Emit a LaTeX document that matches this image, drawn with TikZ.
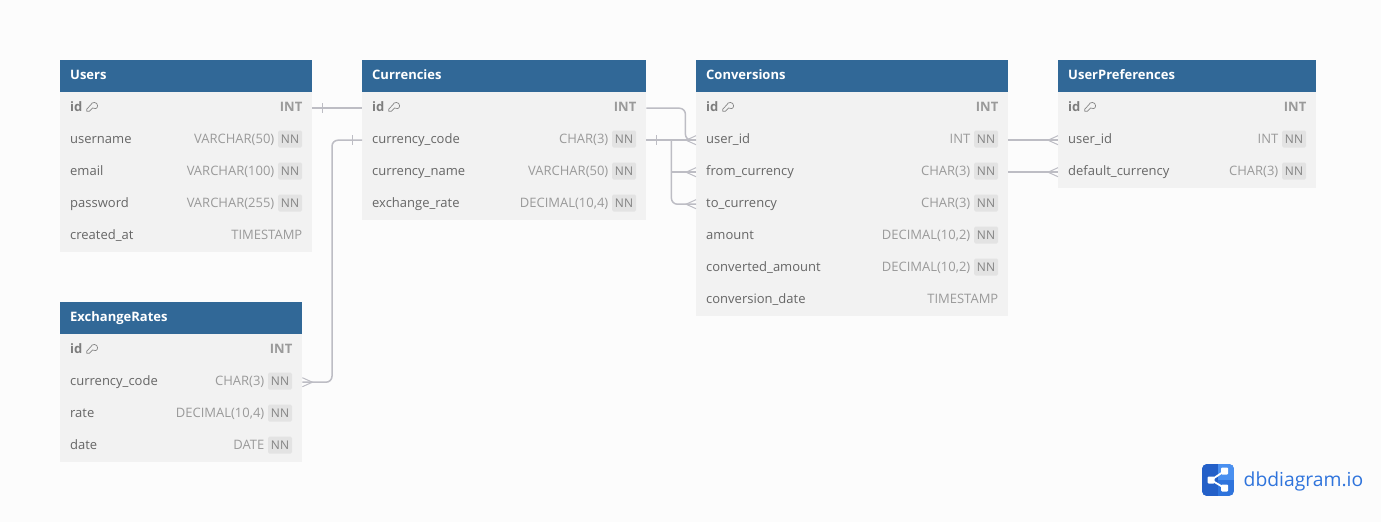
\documentclass[tikz,border=0pt]{standalone}
\usepackage{fontspec}
\setmainfont{Open Sans}
\usetikzlibrary{calc}
\definecolor{bgc}{HTML}{FCFCFC}
\definecolor{hdrc}{HTML}{316897}
\definecolor{rowc}{HTML}{F2F2F2}
\definecolor{nnc}{HTML}{E3E3E3}
\definecolor{labc}{HTML}{666666}
\definecolor{typc}{HTML}{9A9A9A}
\definecolor{linec}{HTML}{BDBDC4}
\definecolor{logoc}{HTML}{2F74DC}
\definecolor{logod}{HTML}{2460C8}
\definecolor{logol}{HTML}{4A90F0}
\tikzset{
  x=1pt,y=-1pt,
  hdrbox/.style={anchor=north west,fill=hdrc,inner sep=0pt,minimum height=32pt},
  rowbox/.style={anchor=north west,fill=rowc,inner sep=0pt,minimum height=32pt},
  hdrtxt/.style={anchor=base west,inner sep=0pt,text=white,font=\fontsize{13}{15}\selectfont\bfseries},
  labtxt/.style={anchor=base west,inner sep=0pt,text=labc,font=\fontsize{13}{15}\selectfont},
  pktxt/.style={anchor=base west,inner sep=0pt,text=labc!85!white,font=\fontsize{13}{15}\selectfont\bfseries},
  typtxt/.style={anchor=base east,inner sep=0pt,text=typc,font=\fontsize{13}{15}\selectfont},
  pktyp/.style={anchor=base east,inner sep=0pt,text=typc,font=\fontsize{13}{15}\selectfont\bfseries},
  nnbox/.style={anchor=center,fill=nnc,rounded corners=1.5pt,inner sep=0pt,minimum width=24pt,minimum height=17pt,text=typc!85!black,font=\fontsize{12}{14}\selectfont},
  conn/.style={draw=linec,line width=1.5pt,rounded corners=6pt},
  endmark/.style={draw=linec,line width=1pt},
}
% header: name x y width text
\newcommand{\hdrrow}[5]{%
  \node[hdrbox,minimum width=#4pt] (#1) at (#2,#3) {};
  \node[hdrtxt] (#1-t) at (#2+10,#3+19) {#5};}
% primary key row: name x y width type
\newcommand{\pkrow}[5]{%
  \node[rowbox,minimum width=#4pt] (#1) at (#2,#3) {};
  \node[pktxt] (#1-l) at (#2+10,#3+19) {id};
  \draw[labc!80!white,line width=.7pt,line join=round]
     (#2+26.8,#3+19.3) -- (#2+26.8,#3+17) -- (#2+30.8,#3+12.9)
     .. controls (#2+31.3,#3+9.5) and (#2+37.8,#3+9.6) .. (#2+37.6,#3+13.8)
     .. controls (#2+37.5,#3+16.8) and (#2+34.3,#3+17.6) .. (#2+32.6,#3+16)
     -- (#2+29.4,#3+19.3) -- cycle;
  \node[pktyp] (#1-y) at (#2+#4-9.5,#3+19) {#5};}
% plain row: name x y width label type
\newcommand{\plainrow}[6]{%
  \node[rowbox,minimum width=#4pt] (#1) at (#2,#3) {};
  \node[labtxt] (#1-l) at (#2+10,#3+19) {#5};
  \node[typtxt] (#1-y) at (#2+#4-9.5,#3+19) {#6};}
% not null row: name x y width label type
\newcommand{\nnrow}[6]{%
  \node[rowbox,minimum width=#4pt] (#1) at (#2,#3) {};
  \node[labtxt] (#1-l) at (#2+10,#3+19) {#5};
  \node[typtxt] (#1-y) at (#2+#4-37.5,#3+19) {#6};
  \node[nnbox] (#1-n) at (#2+#4-22,#3+15) {NN};}
\begin{document}
\begin{tikzpicture}
\fill[bgc] (0,0) rectangle (1381,522);
\useasboundingbox (0,0) rectangle (1381,522);

% Users
\hdrrow{uh}{60}{60}{252}{Users}
\pkrow{uid}{60}{92}{252}{INT}
\nnrow{uname}{60}{124}{252}{username}{VARCHAR(50)}
\nnrow{uemail}{60}{156}{252}{email}{VARCHAR(100)}
\nnrow{upass}{60}{188}{252}{password}{VARCHAR(255)}
\plainrow{ucre}{60}{220}{252}{created\_at}{TIMESTAMP}

% ExchangeRates
\hdrrow{eh}{60}{302}{242}{ExchangeRates}
\pkrow{eid}{60}{334}{242}{INT}
\nnrow{ecode}{60}{366}{242}{currency\_code}{CHAR(3)}
\nnrow{erate}{60}{398}{242}{rate}{DECIMAL(10,4)}
\nnrow{edate}{60}{430}{242}{date}{DATE}

% Currencies
\hdrrow{ch}{362}{60}{284}{Currencies}
\pkrow{cid}{362}{92}{284}{INT}
\nnrow{ccode}{362}{124}{284}{currency\_code}{CHAR(3)}
\nnrow{cname}{362}{156}{284}{currency\_name}{VARCHAR(50)}
\nnrow{crate}{362}{188}{284}{exchange\_rate}{DECIMAL(10,4)}

% Conversions
\hdrrow{vh}{696}{60}{312}{Conversions}
\pkrow{vid}{696}{92}{312}{INT}
\nnrow{vuser}{696}{124}{312}{user\_id}{INT}
\nnrow{vfrom}{696}{156}{312}{from\_currency}{CHAR(3)}
\nnrow{vto}{696}{188}{312}{to\_currency}{CHAR(3)}
\nnrow{vamt}{696}{220}{312}{amount}{DECIMAL(10,2)}
\nnrow{vconv}{696}{252}{312}{converted\_amount}{DECIMAL(10,2)}
\plainrow{vdate}{696}{284}{312}{conversion\_date}{TIMESTAMP}

% UserPreferences
\hdrrow{ph}{1058}{60}{258}{UserPreferences}
\pkrow{pid}{1058}{92}{258}{INT}
\nnrow{puser}{1058}{124}{258}{user\_id}{INT}
\nnrow{pdef}{1058}{156}{258}{default\_currency}{CHAR(3)}

% Connectors
\draw[conn] (uid.east) -- (cid.west);
\draw[endmark] ($(uid.east)+(10,-5)$) -- ++(0,10);

\draw[conn] (ccode.west) -| (332,250) |- (ecode.east);
\draw[endmark] ($(ccode.west)+(-10,-5)$) -- ++(0,10);
\draw[endmark] ($(ecode.east)+(0,-4.5)$) -- ++(10,4.5) -- ++(-10,4.5);

\draw[conn] (cid.east) -- ++(39,0) -- ++(0,32) -- (vuser.west);
\draw[conn] (ccode.east) -- (vuser.west);
\draw[endmark] ($(ccode.east)+(10,-5)$) -- ++(0,10);
\draw[conn] ($(ccode.east)+(25,0)$) |- (vto.west);
\draw[conn,rounded corners=0pt] ($(ccode.east)+(25,32)$) -- (vfrom.west);
\draw[endmark] ($(vuser.west)+(0,-4.5)$) -- ++(-10,4.5) -- ++(10,4.5);
\draw[endmark] ($(vfrom.west)+(0,-4.5)$) -- ++(-10,4.5) -- ++(10,4.5);
\draw[endmark] ($(vto.west)+(0,-4.5)$) -- ++(-10,4.5) -- ++(10,4.5);

\draw[conn] (vuser.east) -- (puser.west);
\draw[conn] (vfrom.east) -- (pdef.west);
\draw[endmark] ($(puser.west)+(0,-4.5)$) -- ++(-10,4.5) -- ++(10,4.5);
\draw[endmark] ($(pdef.west)+(0,-4.5)$) -- ++(-10,4.5) -- ++(10,4.5);

% Logo
\begin{scope}
\clip[rounded corners=5pt] (1202,464) rectangle (1234,496);
\fill[logoc] (1202,464) rectangle (1234,496);
\fill[logod] (1202,464) rectangle (1218,496);
\fill[logol] (1218,464) rectangle (1234,480);
\end{scope}
\draw[white,line width=1.8pt] (1224.5,471) -- (1211,480) -- (1224.5,488);
\fill[white,rounded corners=1pt] (1207.5,476.5) rectangle (1214.5,483.5)
  (1221,467.5) rectangle (1228,474.5) (1221,484.5) rectangle (1228,491.5);
\node[anchor=base west,inner sep=0pt,text=logoc,font=\fontsize{19.3}{22}\selectfont] (logotxt) at (1243.5,486.5) {dbdiagram.io};
\end{tikzpicture}
\end{document}
